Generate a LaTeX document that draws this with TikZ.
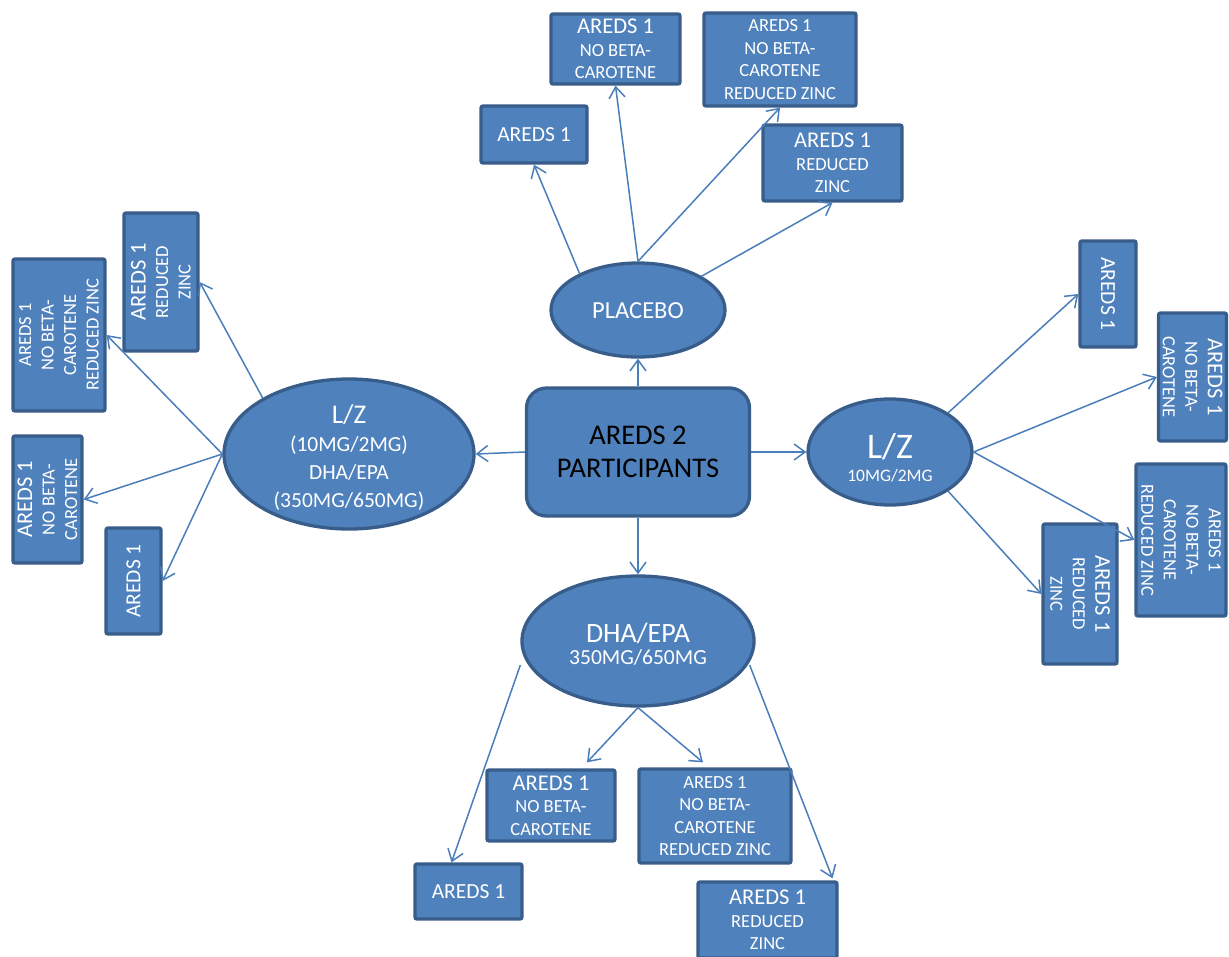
\documentclass[tikz,border=0pt]{standalone}
\usepackage{fontspec}
\setmainfont{Carlito}
\usetikzlibrary{shapes.geometric,arrows.meta}

\definecolor{boxfill}{HTML}{4F81BD}
\definecolor{boxedge}{HTML}{385D8A}
\definecolor{linkblue}{HTML}{4A7EBB}

\newcommand\fsBig{\fontsize{22.5}{26}\selectfont}
\newcommand\fsMid{\fontsize{21.5}{25}\selectfont}
\newcommand\fsSmall{\fontsize{18.5}{22.5}\selectfont}

\tikzset{
  box/.style={draw=boxedge, line width=3.3pt, fill=boxfill, rounded corners=2pt,
    inner sep=0pt, text=white, align=center, font=\fsSmall},
  oval/.style={ellipse, draw=boxedge, line width=3.3pt, fill=boxfill, inner sep=0pt},
  lbl/.style={text=white, align=center, font=\fsSmall, inner sep=0pt},
  link/.style={draw=linkblue, line width=1.5pt,
    -{Straight Barb[length=11pt,width=16pt]}},
}

\begin{document}
\begin{tikzpicture}[x=1pt,y=-1pt]
\clip (0,0) rectangle (1229,956);
\fill[white] (0,0) rectangle (1229,956);

% central node
\node[box, rounded corners=20pt, minimum width=223pt, minimum height=128pt,
  text=black, font=\fontsize{28.5}{33}\selectfont] (core) at (638,452) {AREDS 2\\PARTICIPANTS};

% the four treatment groups
\node[oval, minimum width=174pt, minimum height=94pt] (placebo) at (638,310) {};
\node[lbl, font=\fontsize{24.5}{27}\selectfont] (placebot) at (638,311) {PLACEBO};

\node[oval, minimum width=250pt, minimum height=150pt] (lzd) at (349,454) {};
\node[lbl, font=\fontsize{21.5}{28}\selectfont] (lzdt) at (349,458)
  {{\fontsize{27}{28}\selectfont L/Z}\\(10MG/2MG)\\DHA/EPA\\(350MG/650MG)};

\node[oval, minimum width=164pt, minimum height=106pt] (lz) at (890,452) {};
\node[lbl] (lzt) at (890,458)
  {{\fontsize{36}{31}\selectfont L/Z}\\{\fontsize{17.5}{20}\selectfont 10MG/2MG}};

\node[oval, minimum width=232pt, minimum height=130pt] (dha) at (638,641) {};
\node[lbl] (dhat) at (638,644)
  {{\fontsize{28}{29}\selectfont DHA/EPA}\\{\fontsize{21.5}{29}\selectfont 350MG/650MG}};

% placebo sub-groups
\node[box, minimum width=106pt, minimum height=57pt, font=\fsMid] (t1) at (534,134.5) {AREDS 1};
\node[box, minimum width=129pt, minimum height=70pt] (t2) at (615.5,49)
  {{\fsBig AREDS 1}\\NO BETA-\\CAROTENE};
\node[box, minimum width=152pt, minimum height=93pt] (t3) at (780,59.5)
  {AREDS 1\\NO BETA-\\CAROTENE\\REDUCED ZINC};
\node[box, minimum width=139pt, minimum height=76pt] (t4) at (832.5,163)
  {{\fsBig AREDS 1}\\REDUCED\\ZINC};

% L/Z + DHA/EPA sub-groups
\node[box, minimum width=74pt, minimum height=138pt] (l1) at (161,282) {};
\node[lbl, rotate=90] (l1t) at (l1) {{\fsBig AREDS 1}\\REDUCED\\ZINC};
\node[box, minimum width=92pt, minimum height=152pt] (l2) at (59,335) {};
\node[lbl, rotate=90] (l2t) at (l2) {AREDS 1\\NO BETA-\\CAROTENE\\REDUCED ZINC};
\node[box, minimum width=69pt, minimum height=127pt] (l3) at (47.5,499.5) {};
\node[lbl, rotate=90] (l3t) at (l3) {{\fsBig AREDS 1}\\NO BETA-\\CAROTENE};
\node[box, minimum width=55pt, minimum height=106pt] (l4) at (133.5,581) {};
\node[lbl, rotate=90, font=\fsMid] (l4t) at (l4) {AREDS 1};

% L/Z sub-groups
\node[box, minimum width=56pt, minimum height=106pt] (r1) at (1108,294) {};
\node[lbl, rotate=-90, font=\fsMid] (r1t) at (r1) {AREDS 1};
\node[box, minimum width=68pt, minimum height=128pt] (r2) at (1192.5,377) {};
\node[lbl, rotate=-90] (r2t) at (r2) {{\fsBig AREDS 1}\\NO BETA-\\CAROTENE};
\node[box, minimum width=90pt, minimum height=152pt] (r3) at (1181,540) {};
\node[lbl, rotate=-90] (r3t) at (r3) {AREDS 1\\NO BETA-\\CAROTENE\\REDUCED ZINC};
\node[box, minimum width=74pt, minimum height=140pt] (r4) at (1080,594) {};
\node[lbl, rotate=-90] (r4t) at (r4) {{\fsBig AREDS 1}\\REDUCED\\ZINC};

% DHA/EPA sub-groups
\node[box, minimum width=107pt, minimum height=55pt, font=\fsMid] (b1) at (468.5,891.5) {AREDS 1};
\node[box, minimum width=128pt, minimum height=71pt] (b2) at (551,805.5)
  {{\fsBig AREDS 1}\\NO BETA-\\CAROTENE};
\node[box, minimum width=152pt, minimum height=94pt] (b3) at (715,816)
  {AREDS 1\\NO BETA-\\CAROTENE\\REDUCED ZINC};
\node[box, minimum width=139pt, minimum height=76pt] (b4) at (767.5,920)
  {{\fsBig AREDS 1}\\REDUCED\\ZINC};

% connectors from the participants
\draw[link] (core.north) -- (placebo.south);
\draw[link] (core.west) -- (lzd.east);
\draw[link] (core.east) -- (lz.west);
\draw[link] (core.south) -- (dha.north);

% connectors from placebo
\draw[link] (placebo.148) -- (t1.south);
\draw[link] (placebo.north) -- (t2.south);
\draw[link] (placebo.north) -- (t3.south);
\draw[link] (placebo.28) -- (t4.south);

% connectors from L/Z + DHA/EPA
\draw[link] (lzd.147) -- (l1.east);
\draw[link] (lzd.west) -- (l2.east);
\draw[link] (lzd.west) -- (l3.east);
\draw[link] (lzd.west) -- (l4.east);

% connectors from L/Z
\draw[link] (lz.34) -- (r1.west);
\draw[link] (lz.east) -- (r2.west);
\draw[link] (lz.east) -- (r3.west);
\draw[link] (lz.-34) -- (r4.west);

% connectors from DHA/EPA
\draw[link] ([yshift=-24pt]dha.west) -- ([xshift=-17pt]b1.north);
\draw[link] (dha.south) -- ([xshift=36pt,yshift=6pt]b2.north);
\draw[link] (dha.south) -- ([xshift=-12pt,yshift=5pt]b3.north);
\draw[link] ([xshift=-6pt,yshift=-24pt]dha.east) -- ([xshift=65pt,yshift=2pt]b4.north);
\end{tikzpicture}
\end{document}
